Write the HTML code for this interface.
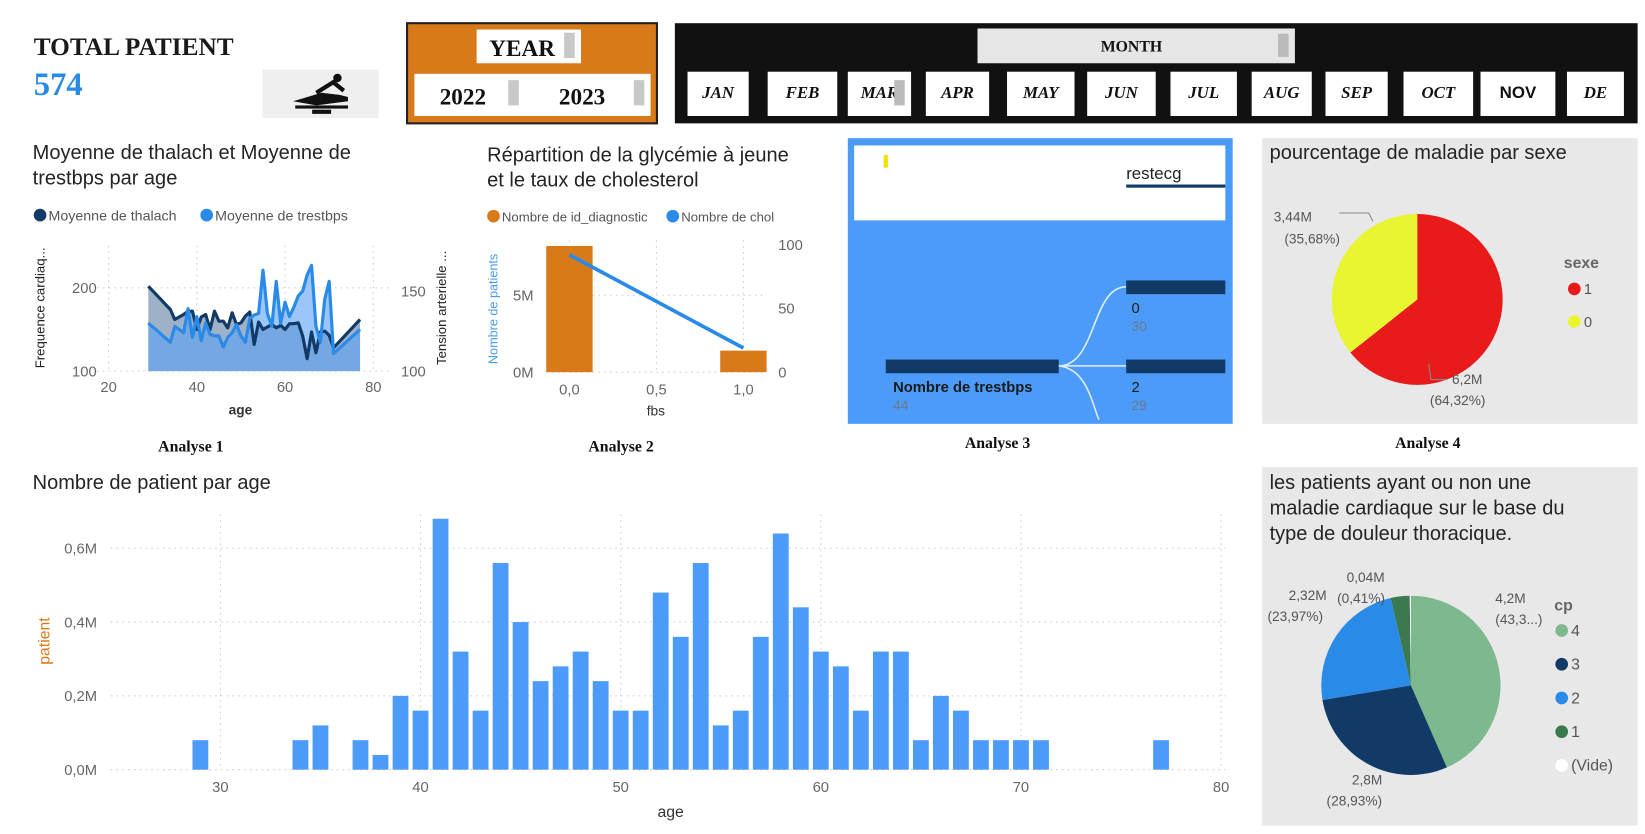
<!DOCTYPE html>
<html><head><meta charset="utf-8"><style>
html,body{margin:0;padding:0;background:#fff;overflow:hidden}
svg{display:block}
text{font-family:"Liberation Sans","DejaVu Sans",sans-serif}
.ser{font-family:"Liberation Serif",serif}
.t{font-size:19px;fill:#252423}
.lg{font-size:13.5px;fill:#555}
.ax{font-size:14px;fill:#666}
.an{font-family:"Liberation Serif",serif;font-weight:bold;font-size:15px;fill:#111}
.mb{font-family:"Liberation Serif",serif;font-weight:bold;font-style:italic;font-size:16px;fill:#111}
.grid{stroke:#ccc;stroke-dasharray:1.5 4;stroke-width:1}
</style></head><body>
<svg id="root" width="1645" height="834" viewBox="0 0 1560 791" preserveAspectRatio="none" xmlns="http://www.w3.org/2000/svg">
<rect width="1560" height="791" fill="#fff"/>
<!-- header -->
<g>
<text x="32" y="52" class="ser" font-weight="bold" font-size="24" fill="#1a1a1a">TOTAL PATIENT</text>
<text x="32" y="90" class="ser" font-weight="bold" font-size="31" fill="#2a8ae8">574</text>
<g>
<rect x="249" y="66" width="110" height="46" fill="#efefef"/>
<path d="M278 96 L305 88 L322 90 L330 92 L330 96 L300 100 Z" fill="#111"/>
<circle cx="320" cy="74" r="4" fill="#111"/>
<path d="M300 88 L316 78 L326 86" stroke="#111" stroke-width="4" fill="none"/>
<rect x="280" y="100" width="50" height="3" fill="#111"/>
<rect x="296" y="104" width="18" height="4" fill="#111"/>
</g>
</g>
<g>
<rect x="386" y="22" width="237" height="95" fill="#d97a1a" stroke="#222" stroke-width="2"/>
<rect x="452" y="28" width="99" height="32" fill="#fff"/>
<text x="464" y="53" class="ser" font-weight="bold" font-size="22" fill="#111">YEAR</text>
<rect x="535" y="31" width="10" height="24" fill="#c8c8c8"/>
<rect x="393" y="70" width="224" height="40" fill="#fff"/>
<text x="417" y="99" class="ser" font-weight="bold" font-size="22" fill="#111">2022</text>
<rect x="482" y="76" width="10" height="24" fill="#c8c8c8"/>
<text x="530" y="99" class="ser" font-weight="bold" font-size="22" fill="#111">2023</text>
<rect x="601" y="76" width="10" height="24" fill="#c8c8c8"/>
</g>
<g id="monthSlicer">
<rect x="640" y="22" width="913" height="95" fill="#111"/>
<rect x="927" y="27" width="301" height="33" fill="#e6e6e6"/>
<text x="1073" y="49" text-anchor="middle" class="ser" font-weight="bold" font-size="15" fill="#111">MONTH</text>
<rect x="1212" y="32" width="10" height="22" fill="#bbb"/>
</g>
<!-- titles -->
<text x="31" y="151" class="t">Moyenne de thalach et Moyenne de</text>
<text x="31" y="175" class="t">trestbps par age</text>
<circle cx="38" cy="204" r="6" fill="#123a66"/><text x="46" y="209" class="lg">Moyenne de thalach</text>
<circle cx="196" cy="204" r="6" fill="#2a8ae8"/><text x="204" y="209" class="lg">Moyenne de trestbps</text>
<text transform="translate(42,292) rotate(-90)" text-anchor="middle" font-size="12.5" fill="#222">Frequence cardiaq...</text>
<text transform="translate(423,292) rotate(-90)" text-anchor="middle" font-size="12.5" fill="#222">Tension arterielle ...</text>
<text x="228" y="393" text-anchor="middle" font-size="13" font-weight="bold" fill="#333">age</text>
<g id="a1"></g>

<text x="462" y="153" class="t">Répartition de la glycémie à jeune</text>
<text x="462" y="177" class="t">et le taux de cholesterol</text>
<circle cx="468" cy="205" r="6" fill="#d97a1a"/><text x="476" y="210" font-size="12.5" fill="#555">Nombre de id_diagnostic</text>
<circle cx="638" cy="205" r="6" fill="#2a8ae8"/><text x="646" y="210" font-size="12.5" fill="#555">Nombre de chol</text>
<text transform="translate(472,293) rotate(-90)" text-anchor="middle" font-size="12" fill="#4a9ae8">Nombre de patients</text>
<text x="622" y="394" text-anchor="middle" font-size="13" fill="#333">fbs</text>
<g id="a2"></g>

<g>
<rect x="804" y="131" width="365" height="271" fill="#4d9bf9"/>
<rect x="810" y="138" width="352" height="71" fill="#fff"/>
<rect x="838" y="147" width="4" height="12" fill="#f2e200"/>
<text x="1068" y="170" font-size="16" fill="#222">restecg</text>
<rect x="1068" y="175" width="94" height="3" fill="#123a66"/>
<path d="M1004 347 C1040 347, 1035 272, 1068 272" stroke="#dfeeff" stroke-width="1.5" fill="none"/>
<path d="M1004 347 L1068 347" stroke="#dfeeff" stroke-width="1.5"/>
<path d="M1004 347 C1030 350, 1035 380, 1042 398" stroke="#dfeeff" stroke-width="1.5" fill="none"/>
<rect x="840" y="341" width="164" height="13" fill="#123a66"/>
<rect x="1068" y="266" width="94" height="13" fill="#123a66"/>
<rect x="1068" y="341" width="94" height="13" fill="#123a66"/>
<text x="847" y="372" font-size="14" font-weight="bold" fill="#1a1a1a">Nombre de trestbps</text>
<text x="847" y="389" font-size="13" fill="#6a7a90">44</text>
<text x="1073" y="297" font-size="14" fill="#1a1a1a">0</text>
<text x="1073" y="314" font-size="13" fill="#6a7a90">30</text>
<text x="1073" y="372" font-size="14" fill="#1a1a1a">2</text>
<text x="1073" y="389" font-size="13" fill="#6a7a90">29</text>
</g>

<rect x="1197" y="131" width="356" height="271" fill="#e8e8e8"/>
<text x="1204" y="151" class="t">pourcentage de maladie par sexe</text>
<text x="1483" y="254" font-size="15" font-weight="bold" fill="#666">sexe</text>
<circle cx="1493" cy="274" r="6" fill="#e81a1a"/><text x="1502" y="279" font-size="14" fill="#555">1</text>
<circle cx="1493" cy="305" r="6" fill="#e8f531"/><text x="1502" y="310" font-size="14" fill="#555">0</text>
<g id="a4"></g>
<text x="1204" y="213" font-size="13" fill="#555" text-anchor="start"><tspan x="1208" y="210">3,44M</tspan><tspan x="1190" y="231" dx="28">(35,68%)</tspan></text>
<text font-size="13" fill="#555"><tspan x="1377" y="364">6,2M</tspan><tspan x="1356" y="384">(64,32%)</tspan></text>
<path d="M1270 202 L1298 202 L1302 210" stroke="#888" fill="none"/>
<path d="M1355 345 L1357 360 L1372 360" stroke="#888" fill="none"/>

<text x="150" y="428" class="an">Analyse 1</text>
<text x="558" y="428" class="an">Analyse 2</text>
<text x="915" y="425" class="an">Analyse 3</text>
<text x="1323" y="425" class="an">Analyse 4</text>

<text x="31" y="464" class="t">Nombre de patient par age</text>
<text transform="translate(47,608) rotate(-90)" text-anchor="middle" font-size="15" fill="#d97a1a">patient</text>
<text x="636" y="775" text-anchor="middle" font-size="15" fill="#333">age</text>
<g id="bars"></g>

<rect x="1197" y="443" width="356" height="340" fill="#e8e8e8"/>
<text x="1204" y="464" class="t">les patients ayant ou non une</text>
<text x="1204" y="488" class="t">maladie cardiaque sur le base du</text>
<text x="1204" y="512" class="t">type de douleur thoracique.</text>
<g id="cp"></g>
<g font-size="13" fill="#555">
<text x="1277" y="552">0,04M</text><text x="1268" y="572">(0,41%)</text>
<text x="1222" y="569">2,32M</text><text x="1202" y="589">(23,97%)</text>
<text x="1418" y="572">4,2M</text><text x="1418" y="592">(43,3...)</text>
<text x="1282" y="744">2,8M</text><text x="1258" y="764">(28,93%)</text>
</g>
<text x="1474" y="579" font-size="15" font-weight="bold" fill="#666">cp</text>
<g id="cpLegend"></g>
</svg>
<script>
const NS="http://www.w3.org/2000/svg";
function mk(tag,attrs,parent){const e=document.createElementNS(NS,tag);for(const k in attrs)e.setAttribute(k,attrs[k]);parent.appendChild(e);return e;}
// Months
const months=["JAN","FEB","MAR","APR","MAY","JUN","JUL","AUG","SEP","OCT","NOV","DE"];
const monthX=[652,728,804,878,955,1031,1110,1187,1257,1331,1404,1486];
const monthW=[58,66,60,60,64,65,63,57,59,66,71,54];
const ms=document.getElementById('monthSlicer');
months.forEach((m,i)=>{
  const r=mk('rect',{x:monthX[i],y:68,width:monthW[i],height:42,fill:'#fff'},ms);
  
  
  const t=mk('text',{x:monthX[i]+monthW[i]/2,y:93,'text-anchor':'middle',class:'mb'},ms);
  if(m==="NOV"){t.setAttribute('style','font-style:normal;font-family:"Liberation Sans",sans-serif;font-size:16px');}
  t.textContent=m;
  
  
});
mk('rect',{x:848,y:76,width:10,height:24,fill:'#bbb'},ms);

// Analyse 1
const a1Ages=[29,34,35,37,38,39,40,41,42,43,44,45,46,47,48,49,50,51,52,53,54,55,56,57,58,59,60,61,62,63,64,65,66,67,68,69,70,71,77];
const a1Thalach=[202,174,162,168,172,172,150,165,168,150,172,160,160,152,170,156,158,166,171,132,159,150,153,156,152,155,150,157,157,158,142,115,147,122,147,148,143,128,162];
const a1Trestbps=[130,118,128,124,139,121,134,119,130,123,122,122,115,121,124,129,122,118,133,135,136,163,136,128,156,130,143,134,140,147,150,160,166,128,118,145,156,111,126];
const a1XTicks=[20,40,60,80];
const a1YLeft=[100,200];
const a1YRight=[100,150];
(function(){
  const g=document.getElementById('a1');
  const X=v=>103+(v-20)*(354-103)/60;
  const YL=v=>352-(v-100)*(352-273)/100;
  const YR=v=>352-(v-100)*(352-276)/50;
  a1XTicks.forEach(t=>{const l=mk('line',{x1:X(t),x2:X(t),y1:233,y2:352,class:'grid'},g);
    const tx=mk('text',{x:X(t),y:372,'text-anchor':'middle',class:'ax'},g);tx.textContent=t;});
  a1YLeft.forEach(t=>{const l=mk('line',{x1:92,x2:370,y1:YL(t),y2:YL(t),class:'grid'},g);
    const tx=mk('text',{x:80,y:YL(t)+5,'text-anchor':'middle',class:'ax'},g);tx.textContent=t;});
  a1YRight.forEach(t=>{const tx=mk('text',{x:392,y:YR(t)+5,'text-anchor':'middle',class:'ax'},g);tx.textContent=t;});
  const pT=a1Ages.map((a,i)=>X(a)+','+YL(a1Thalach[i])).join(' ');
  const pB=a1Ages.map((a,i)=>X(a)+','+YR(a1Trestbps[i])).join(' ');
  const x0=X(a1Ages[0]),x1=X(a1Ages[a1Ages.length-1]);
  const f1=mk('polygon',{points:x0+',352 '+pT+' '+x1+',352',fill:'#9fb1c6'},g);
  const f2=mk('polygon',{points:x0+',352 '+pB+' '+x1+',352',fill:'rgba(90,160,245,0.6)'},g);
  const l1=mk('polyline',{points:pT,fill:'none',stroke:'#123a66','stroke-width':3,'stroke-linejoin':'round'},g);
  const l2=mk('polyline',{points:pB,fill:'none',stroke:'#2a8ae8','stroke-width':3,'stroke-linejoin':'round'},g);
})();

// Analyse 2
const a2Fbs=[0,1];
const a2Diag=[8.2,1.4];
const a2Chol=[92,19];
const a2XTicks=["0,0","0,5","1,0"];
const a2XTickVals=[0,0.5,1];
const a2YLeft=[0,5];
const a2YLeftLabels=["0M","5M"];
const a2YRight=[0,50,100];
(function(){
  const g=document.getElementById('a2');
  const X=v=>540+v*(705-540);
  const YL=v=>353-v*(353-280)/5;
  const YR=v=>353-v*(353-232)/100;
  a2XTickVals.forEach((t,i)=>{const l=mk('line',{x1:X(t),x2:X(t),y1:228,y2:353,class:'grid'},g);
    const tx=mk('text',{x:X(t),y:374,'text-anchor':'middle',class:'ax'},g);tx.textContent=a2XTicks[i];});
  a2YLeft.forEach((t,i)=>{const l=mk('line',{x1:518,x2:726,y1:YL(t),y2:YL(t),class:'grid'},g);
    const tx=mk('text',{x:506,y:YL(t)+5,'text-anchor':'end',class:'ax'},g);tx.textContent=a2YLeftLabels[i];});
  a2YRight.forEach(t=>{const tx=mk('text',{x:738,y:YR(t)+5,class:'ax'},g);tx.textContent=t;});
  a2Fbs.forEach((f,i)=>{const b=mk('rect',{x:X(f)-22,y:YL(a2Diag[i]),width:44,height:353-YL(a2Diag[i]),fill:'#d97a1a'},g);});
  const l=mk('polyline',{points:a2Fbs.map((f,i)=>X(f)+','+YR(a2Chol[i])).join(' '),fill:'none',stroke:'#2a8ae8','stroke-width':3.5},g);
  
})();

// pies
function pie(g,cx,cy,r,vals,cols,names,start){
  const tot=vals.reduce((a,b)=>a+b,0);let a=start;
  vals.forEach((v,i)=>{const a2=a+v/tot*2*Math.PI;
    const p=mk('path',{d:`M${cx},${cy} L${cx+r*Math.sin(a)},${cy-r*Math.cos(a)} A${r},${r} 0 ${a2-a>Math.PI?1:0} 1 ${cx+r*Math.sin(a2)},${cy-r*Math.cos(a2)} Z`,fill:cols[i]},g);
    a=a2;});
}
const sexeLabels=["1","0"];
const sexeValues=[6.2,3.44];
pie(document.getElementById('a4'),1344,284,81,sexeValues,['#e81a1a','#e8f531'],['slice-sexe-1','slice-sexe-0'],0);

const cpLabels=["4","3","2","1","(Vide)"];
const cpValues=[4.2,2.8,2.32,0.33,0.02];
const cpColors=['#7db88f','#123a66','#2a8ae8','#3a7a4e','#ffffff'];
pie(document.getElementById('cp'),1338,650,85,cpValues,cpColors,['slice-cp-4','slice-cp-3','slice-cp-2','slice-cp-1','slice-cp-vide'],0);
const cl=document.getElementById('cpLegend');
cpLabels.forEach((l,i)=>{const y=598+i*32;
  const c=mk('circle',{cx:1481,cy:y,r:6,fill:cpColors[i]},cl);
  const t=mk('text',{x:1490,y:y+5,'font-size':15,fill:'#555'},cl);t.textContent=l;});

// Bar chart
const barAges=[29,34,35,37,38,39,40,41,42,43,44,45,46,47,48,49,50,51,52,53,54,55,56,57,58,59,60,61,62,63,64,65,66,67,68,69,70,71,77];
const barValues=[0.08,0.08,0.12,0.08,0.04,0.2,0.16,0.68,0.32,0.16,0.56,0.4,0.24,0.28,0.32,0.24,0.16,0.16,0.48,0.36,0.56,0.12,0.16,0.36,0.64,0.44,0.32,0.28,0.16,0.32,0.32,0.08,0.2,0.16,0.08,0.08,0.08,0.08,0.08];
const barXTicks=[30,40,50,60,70,80];
const barYTicks=[0,0.2,0.4,0.6];
const barYLabels=["0,0M","0,2M","0,4M","0,6M"];
(function(){
  const g=document.getElementById('bars');
  const X=v=>209+(v-30)*(1158-209)/50;
  const Y=v=>730-v*350;
  barXTicks.forEach(t=>{const l=mk('line',{x1:X(t),x2:X(t),y1:488,y2:730,class:'grid'},g);
    const tx=mk('text',{x:X(t),y:751,'text-anchor':'middle',class:'ax'},g);tx.textContent=t;});
  barYTicks.forEach((t,i)=>{const l=mk('line',{x1:105,x2:1162,y1:Y(t),y2:Y(t),class:'grid'},g);
    const tx=mk('text',{x:92,y:Y(t)+5,'text-anchor':'end',class:'ax'},g);tx.textContent=barYLabels[i];});
  barAges.forEach((a,i)=>{const b=mk('rect',{x:X(a)-7.5,y:Y(barValues[i]),width:15,height:730-Y(barValues[i]),fill:'#4d9bf9'},g);
    });
})();
</script>
</body></html>
